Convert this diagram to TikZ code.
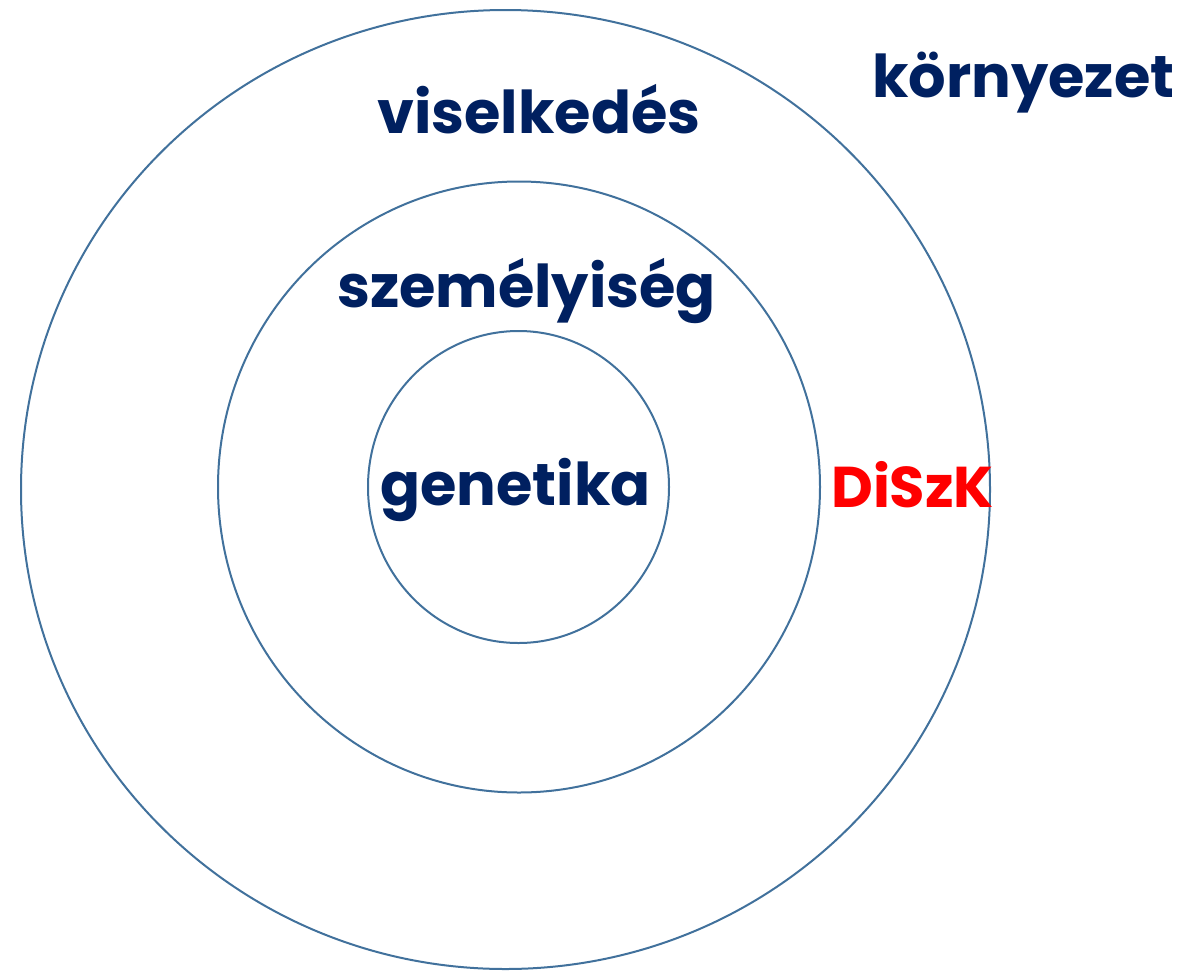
\documentclass[tikz,border=0pt]{standalone}
\usepackage{fontspec}
\setmainfont{Poppins}
\definecolor{ringblue}{RGB}{65,113,156}
\definecolor{navy}{RGB}{0,32,96}
\definecolor{dred}{RGB}{255,0,0}
\begin{document}
\begin{tikzpicture}[x=1pt,y=-1pt,
  ring/.style={draw=ringblue,line width=2pt},
  lbl/.style={font=\fontsize{59}{61}\selectfont\bfseries,text=navy,inner sep=0pt,anchor=base west},
  red lbl/.style={lbl,font=\fontsize{57.5}{60}\selectfont\bfseries,text=dred}]
\useasboundingbox (0,0) rectangle (1184,970);
\draw[ring] (505.5,489.5) ellipse [x radius=484.5,y radius=479.5];
\draw[ring] (519,487) ellipse [x radius=301,y radius=305.5];
\draw[ring] (518.5,487) ellipse [x radius=150.5,y radius=156];
\node[lbl] (env) at (872,97) {környezet};
\node[lbl] (beh) at (377,133) {viselkedés};
\node[lbl] (pers) at (337,307) {személyiség};
\node[lbl] (gen) at (380,505) {genetika};
\node[red lbl] (dszk) at (831,507) {DiSzK};
\end{tikzpicture}
\end{document}
